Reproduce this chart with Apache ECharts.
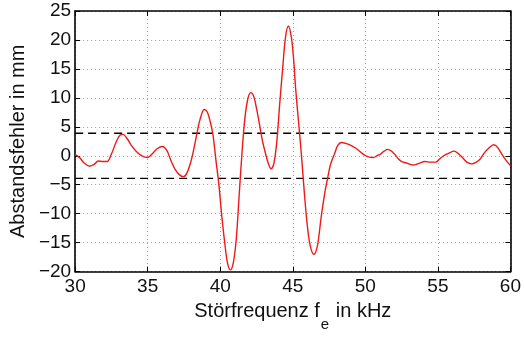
<!DOCTYPE html>
<html>
<head>
<meta charset="utf-8">
<script src="https://cdn.jsdelivr.net/npm/echarts@6/dist/echarts.min.js"></script>
<style>
  html, body { margin: 0; padding: 0; background: #fff; }
  #chart { width: 524px; height: 337px; }
</style>
</head>
<body>
<div id="chart"></div>
<script>
// Interference frequency in kHz
const freq = [
  30.0, 30.3, 30.6, 31.0, 31.3, 31.6, 31.9, 32.2, 32.5, 32.8,
  33.1, 33.3, 33.6, 33.9, 34.2, 34.6, 35.0, 35.3, 35.7, 36.0,
  36.3, 36.6, 36.9, 37.2, 37.45, 37.7, 38.0, 38.2, 38.4, 38.6,
  38.9, 39.1, 39.3, 39.5, 39.7, 39.9, 40.1, 40.3, 40.5, 40.7,
  40.9, 41.1, 41.3, 41.5, 41.7, 41.9, 42.1, 42.3, 42.5, 42.7,
  42.9, 43.1, 43.3, 43.5, 43.7, 43.9, 44.1, 44.3, 44.5, 44.7,
  44.9, 45.05, 45.2, 45.4, 45.6, 45.8, 46.0, 46.2, 46.45, 46.7,
  46.95, 47.2, 47.4, 47.6, 47.9, 48.1, 48.35, 48.7, 49.0, 49.35,
  49.65, 49.9, 50.2, 50.55, 50.8, 51.05, 51.3, 51.55, 51.8, 52.05,
  52.3, 52.5, 52.9, 53.3, 53.7, 54.1, 54.5, 54.85, 55.1, 55.4,
  55.8, 56.1, 56.4, 56.8, 57.05, 57.35, 57.65, 57.9, 58.2, 58.5,
  58.85, 59.1, 59.4, 59.7, 60.0
];
// Distance error in mm
const error = [
  0.2, -0.3, -1.2, -1.8, -1.5, -0.9, -1.0, -1.0, 0.3, 2.2,
  3.6, 3.7, 2.9, 1.7, 0.8, 0.0, -0.3, 0.3, 1.3, 1.6,
  1.0, -0.8, -2.4, -3.3, -3.6, -3.0, -0.8, 1.4, 3.9, 6.2,
  8.0, 7.6, 6.0, 3.6, -0.7, -4.8, -10.2, -14.8, -18.5, -19.7,
  -18.5, -14.5, -7.0, 0.5, 6.5, 9.8, 10.9, 10.3, 8.2, 5.5,
  2.7, 0.6, -1.2, -2.25, -1.3, 2.5, 9.0, 15.0, 20.5, 22.4,
  20.5, 16.9, 11.5, 5.8, 0.0, -6.5, -12.0, -15.5, -17.0, -15.5,
  -10.7, -6.5, -3.9, -1.5, 0.5, 1.8, 2.3, 2.1, 1.8, 1.3,
  0.7, 0.2, -0.2, -0.3, 0.0, 0.3, 0.8, 1.1, 0.8, 0.2,
  -0.6, -1.0, -1.3, -1.6, -1.3, -1.0, -1.1, -1.1, -0.6, 0.0,
  0.5, 0.8, 0.4, -0.6, -1.2, -1.4, -1.1, -0.6, 0.5, 1.3,
  1.9, 1.5, 0.3, -0.8, -1.7
];
// Tolerance band limits in mm
const upperLimit = 3.9;
const lowerLimit = -3.9;
// Axis ranges and tick spacing
const xRange = [30, 60], xStep = 5;
const yRange = [-20, 25], yStep = 5;

const fontFamily = '"Liberation Sans", Arial, Helvetica, sans-serif';
const minus = v => String(v).replace('-', '\u2212');

const chart = echarts.init(document.getElementById('chart'), null, { renderer: 'canvas' });

const gridLine = { show: true, lineStyle: { color: '#a0a0a0', type: [1, 3], width: 1 } };
const tickIn = { show: true, inside: true, length: 5, lineStyle: { color: '#000', width: 1 } };
const axisLineStyle = { show: true, onZero: false, lineStyle: { color: '#000', width: 1.6 } };

chart.setOption({
  animation: false,
  backgroundColor: '#fff',
  grid: { left: 71, right: 10, top: 11, bottom: 52, containLabel: false },
  xAxis: [
    {
      type: 'value', min: xRange[0], max: xRange[1], interval: xStep,
      position: 'bottom',
      axisLine: axisLineStyle, axisTick: tickIn, splitLine: gridLine,
      axisLabel: { color: '#111', fontSize: 19, fontFamily, margin: 5.5, formatter: minus },
      name: '{m|Störfrequenz f}{sub|e}{m| in kHz}', nameLocation: 'middle', nameGap: 24,
      nameTextStyle: {
        color: '#111', fontSize: 20, fontFamily,
        rich: {
          m: { fontSize: 20, lineHeight: 22, fontFamily, color: '#111', verticalAlign: 'top' },
          sub: { fontSize: 15, lineHeight: 15, fontFamily, color: '#111', verticalAlign: 'top', padding: [16, 1, 0, 1] }
        }
      }
    },
    {
      type: 'value', min: xRange[0], max: xRange[1], interval: xStep,
      position: 'top',
      axisLine: axisLineStyle, axisTick: tickIn, splitLine: { show: false },
      axisLabel: { show: false }
    }
  ],
  yAxis: [
    {
      type: 'value', min: yRange[0], max: yRange[1], interval: yStep,
      position: 'left',
      axisLine: axisLineStyle, axisTick: tickIn, splitLine: gridLine,
      axisLabel: { color: '#111', fontSize: 19, fontFamily, margin: 4, formatter: minus },
      name: 'Abstandsfehler in mm', nameLocation: 'middle', nameGap: 40,
      nameTextStyle: { color: '#111', fontSize: 20, fontFamily }
    },
    {
      type: 'value', min: yRange[0], max: yRange[1], interval: yStep,
      position: 'right',
      axisLine: axisLineStyle, axisTick: tickIn, splitLine: { show: false },
      axisLabel: { show: false }
    }
  ],
  series: [
    {
      type: 'line', name: 'upper', xAxisIndex: 0, yAxisIndex: 0,
      data: [[xRange[0], upperLimit], [xRange[1], upperLimit]],
      symbol: 'none', silent: true,
      lineStyle: { color: '#000', width: 1.4, type: [8, 5] }
    },
    {
      type: 'line', name: 'lower', xAxisIndex: 0, yAxisIndex: 0,
      data: [[xRange[0], lowerLimit], [xRange[1], lowerLimit]],
      symbol: 'none', silent: true,
      lineStyle: { color: '#000', width: 1.4, type: [8, 5] }
    },
    {
      type: 'line', name: 'error', xAxisIndex: 0, yAxisIndex: 0,
      data: freq.map((f, i) => [f, error[i]]),
      symbol: 'none', smooth: 0.35, clip: true,
      lineStyle: { color: '#f01818', width: 1.4 }
    }
  ]
});
</script>
</body>
</html>
